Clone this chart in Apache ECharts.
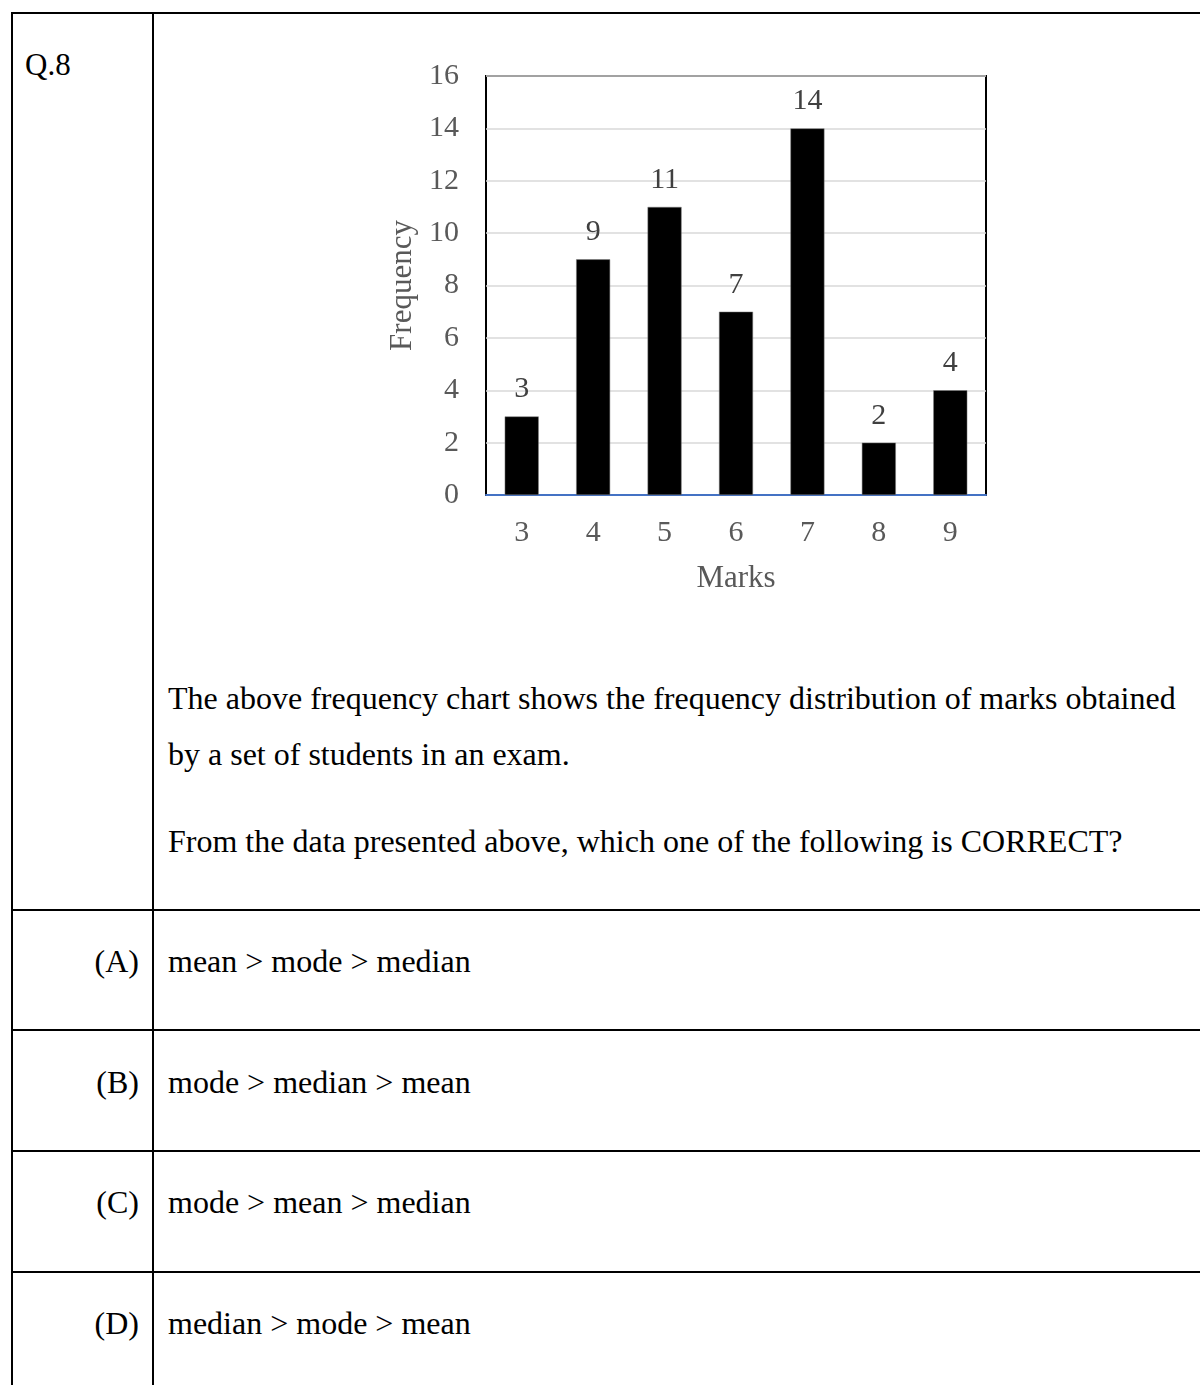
<!DOCTYPE html>
<html>
<head>
<meta charset="utf-8">
<script src="https://cdn.jsdelivr.net/npm/echarts@6/dist/echarts.min.js"></script>
<style>
  html, body { margin: 0; padding: 0; background: #fff; }
  body { width: 1200px; height: 1385px; position: relative; overflow: hidden;
         font-family: "Liberation Serif", "Times New Roman", serif; color: #000; }
  .hl { position: absolute; height: 2px; background: #000; }
  .vl { position: absolute; width: 2px; background: #000; }
  .t { position: absolute; font-size: 32px; line-height: 32px; white-space: nowrap; }
  #chart { position: absolute; left: 0; top: 0; width: 1200px; height: 640px; }
</style>
</head>
<body>
<div class="hl" style="left:11px; top:12px; width:1189px;"></div>
<div class="vl" style="left:11px; top:12px; height:1373px;"></div>
<div class="vl" style="left:152px; top:12px; height:1373px;"></div>
<div class="hl" style="left:11px; top:909px; width:1189px;"></div>
<div class="hl" style="left:11px; top:1029px; width:1189px;"></div>
<div class="hl" style="left:11px; top:1150px; width:1189px;"></div>
<div class="hl" style="left:11px; top:1271px; width:1189px;"></div>

<div class="t" style="left:25px; top:49px; font-size:31px;">Q.8</div>
<div id="chart"></div>
<div class="t" style="left:168px; top:682px;">The above frequency chart shows the frequency distribution of marks obtained</div>
<div class="t" style="left:168px; top:738px;">by a set of students in an exam.</div>
<div class="t" style="left:168px; top:825px;">From the data presented above, which one of the following is CORRECT?</div>

<div class="t" style="right:1061px; top:945px;">(A)</div>
<div class="t" style="left:168px; top:945px;">mean &gt; mode &gt; median</div>
<div class="t" style="right:1061px; top:1066px;">(B)</div>
<div class="t" style="left:168px; top:1066px;">mode &gt; median &gt; mean</div>
<div class="t" style="right:1061px; top:1186px;">(C)</div>
<div class="t" style="left:168px; top:1186px;">mode &gt; mean &gt; median</div>
<div class="t" style="right:1061px; top:1307px;">(D)</div>
<div class="t" style="left:168px; top:1307px;">median &gt; mode &gt; mean</div>

<script>
const marks = ['3', '4', '5', '6', '7', '8', '9'];
const frequency = [3, 9, 11, 7, 14, 2, 4];
const yTicks = { min: 0, max: 16, interval: 2 };

const chart = echarts.init(document.getElementById('chart'), null, { renderer: 'canvas' });
const font = '"Liberation Serif", "Times New Roman", serif';
chart.setOption({
  animation: false,
  grid: {
    left: 486, top: 76, width: 500, height: 419,
    show: true, borderColor: '#000', borderWidth: 2, backgroundColor: 'transparent'
  },
  xAxis: {
    type: 'category',
    data: marks,
    name: 'Marks',
    nameLocation: 'middle',
    nameGap: 68,
    nameTextStyle: { fontFamily: font, fontSize: 31, color: '#595959' },
    axisLine: { show: true, lineStyle: { color: '#4472C4', width: 2 } },
    axisTick: { show: false },
    axisLabel: { fontFamily: font, fontSize: 30, color: '#595959', margin: 23 },
    splitLine: { show: false }
  },
  yAxis: {
    type: 'value',
    min: yTicks.min, max: yTicks.max, interval: yTicks.interval,
    name: 'Frequency',
    nameLocation: 'middle',
    nameGap: 68,
    nameTextStyle: { fontFamily: font, fontSize: 31, color: '#595959' },
    axisLine: { show: false },
    axisTick: { show: false },
    axisLabel: { fontFamily: font, fontSize: 30, color: '#595959', margin: 27 },
    splitLine: { show: true, lineStyle: { color: '#d9d9d9', width: 1.5 } }
  },
  series: [{
    type: 'bar',
    data: frequency,
    barWidth: 34,
    itemStyle: { color: '#000', borderColor: '#7f7f7f', borderWidth: 0.5 },
    label: {
      show: true, position: 'top', distance: 12,
      fontFamily: font, fontSize: 30, color: '#404040'
    }
  }]
});
</script>
</body>
</html>
